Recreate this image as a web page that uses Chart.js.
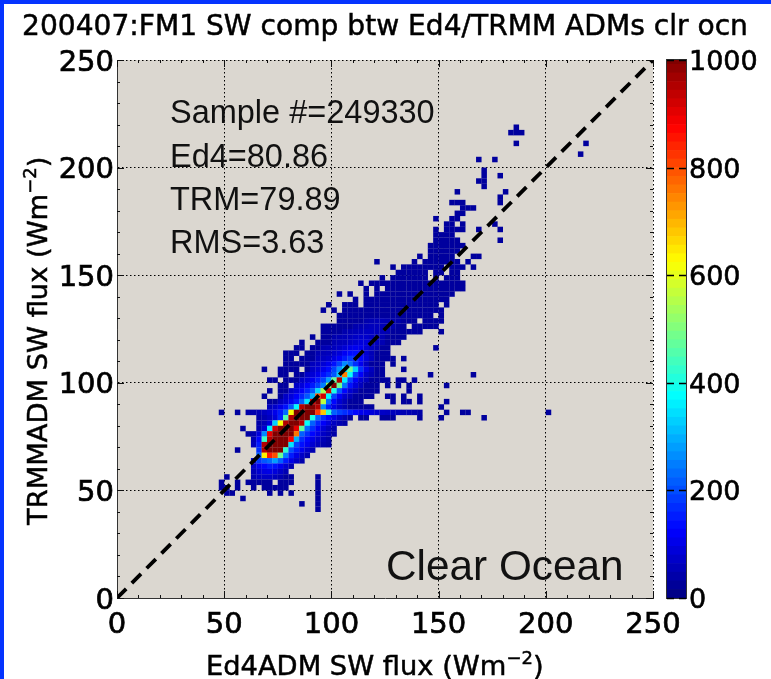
<!DOCTYPE html>
<html><head><meta charset="utf-8">
<script src="https://cdn.jsdelivr.net/npm/chart.js@4"></script>
<style>
html,body{margin:0;padding:0;background:#fff;width:771px;height:679px;overflow:hidden}
#wrap{position:relative;width:771px;height:679px}
canvas{position:absolute;left:0;top:0}
#edgeT{position:absolute;left:0;top:0;width:771px;height:4px;background:#0433ff}
#edgeL{position:absolute;left:0;top:0;width:4px;height:679px;background:#0433ff}
</style></head><body>
<div id="wrap"><canvas id="main" width="771" height="679"></canvas><canvas id="bar" width="771" height="679"></canvas><div id="edgeT"></div><div id="edgeL"></div></div>
<script>
const titleText = '200407:FM1 SW comp btw Ed4/TRMM ADMs clr ocn';
const xTitleParts = ['Ed4ADM SW flux (Wm','−2',')'];
const yTitleParts = ['TRMMADM SW flux (Wm','−2',')'];
const statLines = ['Sample #=249330','Ed4=80.86','TRM=79.89','RMS=3.63'];
const regionLabel = 'Clear Ocean';
const axisMax = 250;
const binSize = 2.5;
const majorTicks = [0,50,100,150,200,250];
const minorTicks = [10,20,30,40,60,70,80,90,110,120,130,140,160,170,180,190,210,220,230,240];
const barTicks = [0,200,400,600,800,1000];
const diagonal = [0,250];
const baseCount = 30;

// occupied bins: row (top edge = t*binSize) -> [firstBin,lastBin] runs
const rowTops = [88,87,85,83,82,80,79,78,77,76,75,74,73,72,71,70,69,68,67,66,65,64,63,62,61,60,59,58,57,56,55,54,53,52,51,50,49,48,47,46,45,44,43,42,41,40,39,38,37,36,35,34,33,32,31,30,29,28,27,26,25,24,23,22,21,20,19,18,17];
const rowRuns = [
[[74,74]],[[73,75]],[[74,74],[87,87]],[[86,86]],[[67,67],[70,70]],[[68,68]],[[68,68],[71,71]],[[67,68]],[[68,68]],[[63,63],[72,72]],
[[71,71]],[[62,64],[71,71]],[[64,66]],[[63,64]],[[59,59],[62,63]],[[61,62],[64,64],[70,70]],[[59,59],[61,64],[67,67],[71,71]],[[59,62]],[[59,63],[71,71]],[[58,64]],
[[58,63]],[[56,56],[58,62],[66,67]],[[48,48],[55,55],[57,63],[65,65]],[[51,51],[53,60],[62,64],[66,66]],[[52,57],[59,60],[62,63]],[[49,49],[51,57],[59,59],[61,63]],[[45,45],[47,64]],[[46,46],[48,48],[50,64]],[[41,41],[43,43],[46,46],[48,62]],[[44,44],[46,61]],
[[39,39],[42,44],[46,59],[61,61]],[[38,38],[40,40],[42,60]],[[41,58],[60,60]],[[41,55],[57,60]],[[38,53],[55,59]],[[38,56],[60,60]],[[36,36],[38,53]],[[34,34],[37,52]],[[33,34],[36,50],[59,59]],[[31,33],[35,50]],
[[31,32],[34,51],[53,53]],[[31,49],[51,51]],[[27,27],[30,33],[35,49],[53,53]],[[30,31],[33,49],[58,58],[66,66]],[[28,29],[31,50],[52,53],[55,55]],[[30,31],[33,48],[50,50],[52,52],[54,54],[61,61]],[[28,28],[30,48],[54,54]],[[27,27],[30,47],[50,51],[53,53],[56,56]],[[28,45],[51,51],[53,54],[56,56],[61,61]],[[28,47],[60,60]],
[[19,19],[22,22],[24,56],[61,61],[64,65],[80,80]],[[26,43],[45,46],[49,51],[56,56],[60,60],[68,68]],[[26,42]],[[23,23],[26,40]],[[24,40]],[[25,39]],[[25,39]],[[22,22],[26,36]],[[26,35]],[[25,34]],
[[25,32]],[[25,31]],[[20,20],[25,32],[37,37]],[[19,19],[22,22],[24,28],[30,32],[37,37]],[[19,20],[22,22],[25,25],[27,31],[37,37]],[[20,21],[28,28],[30,30],[32,32],[37,37]],[[23,23],[37,37]],[[34,34],[37,37]],[[37,37]]
];
// brighter bins along the diagonal: row top, first bin, counts
const coreTops = [52,51,50,49,48,47,46,45,44,43,42,41,40,39,38,37,36,35,34,33,32,31,30,29,28,27,26,25,24,23];
const coreStarts = [46,44,42,40,40,38,37,37,36,36,35,34,33,32,31,30,28,24,26,26,26,24,25,25,26,26,25,25,25,25];
const coreCounts = [
[45,50,55,55,50,45,40],
[45,50,55,60,60,55,50,45],
[45,50,55,60,65,65,60,55,50],
[45,50,55,60,70,75,75,65,55,50],
[50,55,60,70,80,90,90,75,60,50],
[50,55,60,70,85,100,110,105,85,65,50],
[50,55,60,75,90,115,135,140,115,80,55],
[60,65,75,95,120,150,180,170,130,90,60],
[60,70,85,105,140,190,260,230,170,110,65],
[70,85,105,135,190,270,350,480,330,170,100,60],
[70,85,105,140,170,210,320,750,380,190,120,70,50],
[70,85,110,150,190,280,470,950,360,190,120,80,60],
[70,90,120,150,190,250,520,1000,480,240,140,90,60],
[70,90,120,160,210,340,540,920,400,210,130,80,55],
[70,90,120,160,210,300,800,920,370,190,120,75,55],
[60,80,110,150,220,350,900,1000,560,230,130,80,55],
[60,75,100,140,210,370,950,1000,1000,950,260,150,100,70,50],
[40,45,55,65,80,105,150,230,620,1000,1000,1000,1000,820,680,420,220,190,170,150,130,110,100,90,80,70,65,60,55,50,50,45,40],
[40,50,65,90,160,450,950,1000,1000,1000,400,220,170,130,100,70,50],
[40,55,85,330,620,950,1000,1000,950,380,220,160,120,90,65,50,40],
[45,80,360,920,1000,1000,1000,900,470,230,170,120,85,60,45],
[35,45,90,260,900,1000,1000,1000,1000,760,220,170,130,100,70,55,40],
[50,130,430,950,1000,1000,1000,880,300,170,130,100,75,55,40],
[60,150,950,1000,1000,1000,1000,350,190,140,110,80,60,45,35],
[170,950,1000,1000,1000,420,200,150,110,75,50],
[220,640,850,800,480,250,150,100,70,50],
[70,180,210,230,280,220,150,100,70,45],
[70,110,130,150,140,110,80,50],
[55,80,95,100,90,70,50],
[50,65,70,70,60,50]
];
const colorStops = [[0,0,0,128],[125,0,0,255],[375,0,255,255],[625,255,255,0],[875,255,0,0],[1000,128,0,0]];
const barStep = 16;

function jet(v){
  v=Math.max(0,Math.min(1000,v));
  for(let k=1;k<colorStops.length;k++){
    const a=colorStops[k-1],b=colorStops[k];
    if(v<=b[0]){const f=(v-a[0])/(b[0]-a[0]);
      return `rgb(${Math.round(a[1]+f*(b[1]-a[1]))},${Math.round(a[2]+f*(b[2]-a[2]))},${Math.round(a[3]+f*(b[3]-a[3]))})`;}
  }
  return 'rgb(128,0,0)';
}
const cellMap=new Map();
rowTops.forEach((t,k)=>rowRuns[k].forEach(([a,b])=>{for(let i=a;i<=b;i++)cellMap.set(i+':'+t,baseCount);}));
coreTops.forEach((t,k)=>coreCounts[k].forEach((c,n)=>cellMap.set((coreStarts[k]+n)+':'+t,c)));
const cells=[...cellMap].map(([key,c])=>{const [i,t]=key.split(':').map(Number);return {x:(i+.5)*binSize,y:(t-.5)*binSize,c};});

const FONT='"DejaVu Sans"';
function heavyText(c,s,x,y){c.fillText(s,x,y);c.strokeText(s,x,y);}
function superText(c,parts,x,y){
  let cx=x;
  c.font='27.3px '+FONT;heavyText(c,parts[0],cx,y);cx+=c.measureText(parts[0]).width;
  c.font='18px '+FONT;heavyText(c,parts[1],cx,y-11);cx+=c.measureText(parts[1]).width;
  c.font='27.3px '+FONT;heavyText(c,parts[2],cx,y);
}
const plotDecor={
  id:'plotDecor',
  beforeDraw(ch){const a=ch.chartArea,c=ch.ctx;c.save();c.fillStyle='#dbd7d0';c.fillRect(a.left,a.top,a.width,a.height);c.restore();},
  afterDraw(ch){
    const a=ch.chartArea,c=ch.ctx,X=ch.scales.x,Y=ch.scales.y;
    c.save();c.strokeStyle='#111';c.lineWidth=1;
    const tick=(list,len)=>list.forEach(v=>{
      const px=Math.round(X.getPixelForValue(v))+.5,py=Math.round(Y.getPixelForValue(v))+.5;
      c.beginPath();
      c.moveTo(px,a.bottom);c.lineTo(px,a.bottom-len);c.moveTo(px,a.top);c.lineTo(px,a.top+len);
      c.moveTo(a.left,py);c.lineTo(a.left+len,py);c.moveTo(a.right,py);c.lineTo(a.right-len,py);
      c.stroke();});
    tick(minorTicks,3);tick(majorTicks,7);
    c.fillStyle='#111';c.textAlign='left';c.textBaseline='alphabetic';
    c.font='32.5px "Liberation Sans"';
    const xt=X.getPixelForValue(24.7),ys=[123,167,210,253];
    statLines.forEach((s,i)=>c.fillText(s,xt,ys[i]));
    c.font='42.3px "Liberation Sans"';
    c.fillText(regionLabel,X.getPixelForValue(125.5),580);
    c.fillStyle='#000';c.strokeStyle='#000';c.lineWidth=.5;
    superText(c,xTitleParts,206,675);
    c.save();c.translate(47,525);c.rotate(-Math.PI/2);superText(c,yTitleParts,0,0);c.restore();
    c.textAlign='center';c.font='28.1px '+FONT;heavyText(c,titleText,385,35);
    c.restore();
  }
};
new Chart(document.getElementById('main'),{
  type:'scatter',
  plugins:[plotDecor],
  data:{datasets:[
    {data:diagonal.map(v=>({x:v,y:v})),showLine:true,pointRadius:0,borderColor:'#000',borderWidth:3.8,borderDash:[13,8],order:0},
    {data:cells,pointStyle:'rect',pointRadius:3.9,pointBorderWidth:0,borderWidth:0,backgroundColor:ctx=>jet(ctx.raw?ctx.raw.c:0),order:1}
  ]},
  options:{
    responsive:false,animation:false,
    layout:{padding:{top:60,right:118,bottom:0,left:0}},
    plugins:{legend:{display:false},tooltip:{enabled:false},title:{display:false}},
    scales:{
      x:{type:'linear',min:0,max:axisMax,afterFit:s=>{s.height=81;},
        afterBuildTicks:s=>{s.ticks=majorTicks.map(v=>({value:v}));},
        grid:{color:'#000',lineWidth:1,drawTicks:false,borderDash:[1.5,2.5]},
        border:{color:'#333',width:1,dash:[1.5,2.5]},
        ticks:{color:'#000',padding:10,maxRotation:0,autoSkip:false,textStrokeColor:'#000',textStrokeWidth:.7,font:{family:FONT,size:29}}},
      y:{type:'linear',min:0,max:axisMax,afterFit:s=>{s.width=117;},
        afterBuildTicks:s=>{s.ticks=majorTicks.map(v=>({value:v}));},
        grid:{color:'#000',lineWidth:1,drawTicks:false,borderDash:[1.5,2.5]},
        border:{color:'#333',width:1,dash:[1.5,2.5]},
        ticks:{color:'#000',padding:3,autoSkip:false,labelOffset:3,textStrokeColor:'#000',textStrokeWidth:.7,font:{family:FONT,size:29}}}
    }
  }
});
// colour bar
const barLevels=[];for(let v=0;v<1000;v+=barStep)barLevels.push(v);
const barFrame={id:'barFrame',afterDraw(ch){
  const a=ch.chartArea,c=ch.ctx,Y=ch.scales.y;c.save();c.strokeStyle='#333';c.lineWidth=1;
  c.strokeRect(a.left-.5,a.top-.5,a.width+1,a.height+1);
  c.strokeStyle='#000';c.lineWidth=1.5;
  barTicks.forEach(v=>{const p=Math.round(Y.getPixelForValue(v))+.5;c.beginPath();
    c.moveTo(a.left,p);c.lineTo(a.left+7,p);c.moveTo(a.right-7,p);c.lineTo(a.right,p);c.stroke();});
  c.restore();}};
new Chart(document.getElementById('bar'),{
  type:'bar',plugins:[barFrame],
  data:{labels:[''],datasets:barLevels.map(v=>({data:[[v,Math.min(1000,v+barStep)]],backgroundColor:jet(v+barStep/2),barPercentage:1,categoryPercentage:1,grouped:false,borderWidth:0}))},
  options:{responsive:false,animation:false,
    layout:{padding:{top:60,left:667,right:0,bottom:81}},
    plugins:{legend:{display:false},tooltip:{enabled:false},title:{display:false}},
    scales:{
      x:{display:false,grid:{display:false}},
      y:{position:'right',min:0,max:1000,afterFit:s=>{s.width=85;},
        afterBuildTicks:s=>{s.ticks=barTicks.map(v=>({value:v}));},
        grid:{display:false},border:{display:false},
        ticks:{color:'#000',padding:-5,autoSkip:false,labelOffset:3,textStrokeColor:'#000',textStrokeWidth:.6,callback:v=>String(v),font:{family:FONT,size:27}}}
    }
  }
});
</script></body></html>
